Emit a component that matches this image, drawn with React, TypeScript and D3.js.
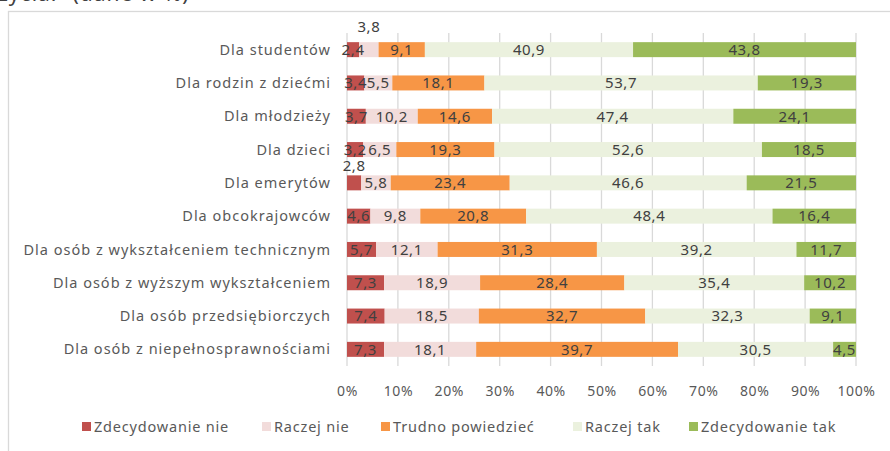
import React, { useEffect, useRef } from 'react';
import * as d3 from 'd3';

// categories, top to bottom
const categories = [
  'Dla studentów',
  'Dla rodzin z dziećmi',
  'Dla młodzieży',
  'Dla dzieci',
  'Dla emerytów',
  'Dla obcokrajowców',
  'Dla osób z wykształceniem technicznym',
  'Dla osób z wyższym wykształceniem',
  'Dla osób przedsiębiorczych',
  'Dla osób z niepełnosprawnościami',
];

const seriesNames = [
  'Zdecydowanie nie',
  'Raczej nie',
  'Trudno powiedzieć',
  'Raczej tak',
  'Zdecydowanie tak',
];

const zdecydowanieNie = [2.4, 3.4, 3.7, 3.2, 2.8, 4.6, 5.7, 7.3, 7.4, 7.3];
const raczejNie = [3.8, 5.5, 10.2, 6.5, 5.8, 9.8, 12.1, 18.9, 18.5, 18.1];
const trudnoPowiedziec = [9.1, 18.1, 14.6, 19.3, 23.4, 20.8, 31.3, 28.4, 32.7, 39.7];
const raczejTak = [40.9, 53.7, 47.4, 52.6, 46.6, 48.4, 39.2, 35.4, 32.3, 30.5];
const zdecydowanieTak = [43.8, 19.3, 24.1, 18.5, 21.5, 16.4, 11.7, 10.2, 9.1, 4.5];

const tickValues = [0, 0.1, 0.2, 0.3, 0.4, 0.5, 0.6, 0.7, 0.8, 0.9, 1];

// labels that were moved above the bar in the original
const raisedLabels = [
  { category: 'Dla studentów', series: 'Raczej nie', shift: -23 },
  { category: 'Dla emerytów', series: 'Zdecydowanie nie', shift: -17 },
];

const colors = ['#c0504d', '#f2dcdb', '#f79646', '#ebf1de', '#9bbb59'];

const FONT = "'Noto Sans', sans-serif";

function App() {
  const svgRef = useRef<SVGSVGElement>(null);

  useEffect(() => {
    document.body.style.margin = '0';
    const svg = d3.select(svgRef.current);
    svg.selectAll('*').remove();

    const rows = categories.map((c, i) => ({
      category: c,
      'Zdecydowanie nie': zdecydowanieNie[i],
      'Raczej nie': raczejNie[i],
      'Trudno powiedzieć': trudnoPowiedziec[i],
      'Raczej tak': raczejTak[i],
      'Zdecydowanie tak': zdecydowanieTak[i],
    }));

    // 100% stacked
    const stack = d3
      .stack<any>()
      .keys(seriesNames)
      .offset(d3.stackOffsetExpand);
    const layers = stack(rows);

    const x = d3.scaleLinear().domain([0, 1]).range([347, 856]);
    const y = d3
      .scaleBand()
      .domain(categories)
      .range([33, 366])
      .paddingInner(0.55)
      .paddingOuter(0.275);

    const color = d3.scaleOrdinal<string>().domain(seriesNames).range(colors);

    // title, cut off at the top of the picture
    svg
      .append('text')
      .attr('x', -2)
      .attr('y', 1)
      .style('font-family', FONT)
      .style('font-size', '21px')
      .style('letter-spacing', '1px')
      .style('fill', '#404040')
      .text('życia.”  (dane w %)');

    // chart frame
    svg
      .append('rect')
      .attr('x', 8.5)
      .attr('y', 11.5)
      .attr('width', 1000)
      .attr('height', 600)
      .style('fill', 'none')
      .style('stroke', '#d9d9d9')
      .style('stroke-width', 1.3);

    // gridlines
    svg
      .append('g')
      .selectAll('line')
      .data(tickValues)
      .enter()
      .append('line')
      .attr('x1', (d) => x(d))
      .attr('x2', (d) => x(d))
      .attr('y1', 33)
      .attr('y2', 366)
      .style('stroke', '#d9d9d9')
      .style('stroke-width', 1.3);

    // bars
    const g = svg
      .append('g')
      .selectAll('g')
      .data(layers)
      .enter()
      .append('g')
      .style('fill', (d) => color(d.key));

    g.selectAll('rect')
      .data((d) => d)
      .enter()
      .append('rect')
      .attr('x', (d) => x(d[0]))
      .attr('y', (d) => y(d.data.category)!)
      .attr('width', (d) => x(d[1]) - x(d[0]))
      .attr('height', y.bandwidth());

    // data labels
    const labels = svg.append('g');
    layers.forEach((layer) => {
      layer.forEach((d) => {
        const cat = d.data.category;
        const raised = raisedLabels.find(
          (r) => r.category === cat && r.series === layer.key
        );
        const cy = y(cat)! + y.bandwidth() / 2 + (raised ? raised.shift : 0);
        labels
          .append('text')
          .attr('x', x((d[0] + d[1]) / 2))
          .attr('y', cy)
          .attr('dy', '0.35em')
          .attr('text-anchor', 'middle')
          .style('font-family', FONT)
          .style('font-size', '15px')
          .style('letter-spacing', '0.6px')
          .style('fill', '#404040')
          .text(d3.format('.1f')(d.data[layer.key]).replace('.', ','));
      });
    });

    // category axis labels
    svg
      .append('g')
      .selectAll('text')
      .data(categories)
      .enter()
      .append('text')
      .attr('x', 331)
      .attr('y', (d) => y(d)! + y.bandwidth() / 2)
      .attr('dy', '0.35em')
      .attr('text-anchor', 'end')
      .style('font-family', FONT)
      .style('font-size', '14.5px')
      .style('letter-spacing', '1px')
      .style('fill', '#595959')
      .text((d) => d);

    // percent axis
    const xAxis = svg
      .append('g')
      .attr('transform', 'translate(0,366)')
      .call(
        d3
          .axisBottom(x)
          .tickValues(tickValues)
          .tickSize(0)
          .tickPadding(20)
          .tickFormat(d3.format('.0%'))
      );
    xAxis.select('.domain').remove();
    xAxis
      .selectAll('text')
      .style('font-family', FONT)
      .style('font-size', '14px')
      .style('letter-spacing', '0.6px')
      .style('fill', '#595959');

    // legend
    const legendX = [82, 262, 381, 573, 689];
    const legend = svg
      .append('g')
      .selectAll('g')
      .data(seriesNames)
      .enter()
      .append('g')
      .attr('transform', (d, i) => 'translate(' + legendX[i] + ',427)');
    legend
      .append('rect')
      .attr('x', 0)
      .attr('y', -5)
      .attr('width', 9)
      .attr('height', 9)
      .style('fill', (d) => color(d));
    legend
      .append('text')
      .attr('x', 12)
      .attr('y', 0)
      .attr('dy', '0.35em')
      .style('font-family', FONT)
      .style('font-size', '14.5px')
      .style('letter-spacing', '0.8px')
      .style('fill', '#595959')
      .text((d) => d);
  }, []);

  return (
    <svg
      ref={svgRef}
      width={890}
      height={451}
      style={{ display: 'block', background: '#fff' }}
    ></svg>
  );
}

export default App;
